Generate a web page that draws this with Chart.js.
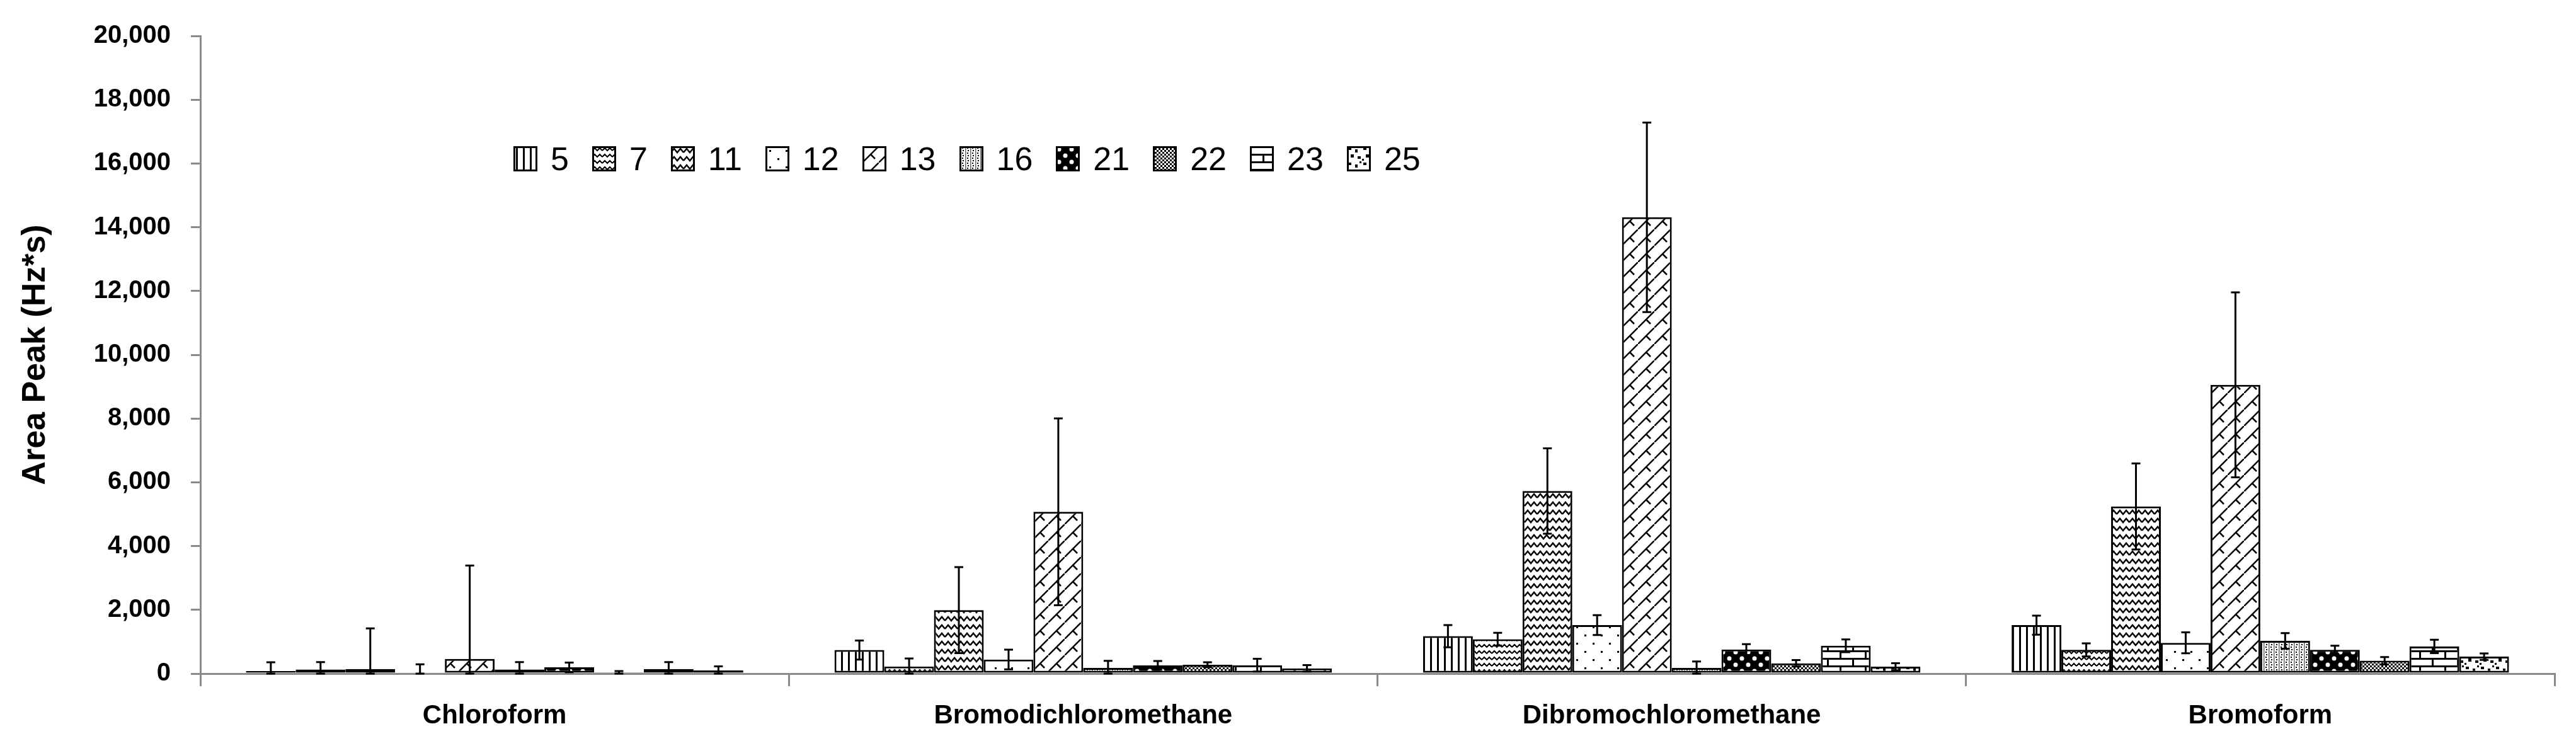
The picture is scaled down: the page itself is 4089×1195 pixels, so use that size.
<!DOCTYPE html>
<html>
<head>
<meta charset="utf-8">
<script src="https://cdn.jsdelivr.net/npm/chart.js@4.4.0/dist/chart.umd.min.js"></script>
<style>
    html, body { margin: 0; padding: 0; background: #fff; overflow: hidden; }
    #wrap { position: relative; width: 4089px; height: 1195px; }
    #legend {
        position: absolute; left: 815px; top: 222px;
        display: flex; align-items: center;
        font-family: 'Liberation Sans', Arial, sans-serif; font-size: 52px; color: #000;
    }
    .item { display: flex; align-items: center; margin-right: 37px; }
    .item canvas { display: block; margin-right: 21px; }
</style>
</head>
<body>
<div id="wrap">
    <canvas id="chart" width="4089" height="1195"></canvas>
    <div id="legend"></div>
</div>
<script>
// Categorias e séries
const categories = ['Chloroform', 'Bromodichloromethane', 'Dibromochloromethane', 'Bromoform'];
const seriesNames = ['5', '7', '11', '12', '13', '16', '21', '22', '23', '25'];

// Médias (Area Peak, Hz*s)
const mean5  = [78, 740, 1174, 1520];
const mean7  = [130, 224, 1078, 745];
const mean11 = [144, 1990, 5725, 5243];
const mean12 = [33, 441, 1521, 965];
const mean13 = [458, 5073, 14311, 9058];
const mean16 = [130, 178, 180, 1026];
const mean21 = [196, 257, 754, 745];
const mean22 = [40, 277, 323, 403];
const mean23 = [144, 263, 874, 851];
const mean25 = [98, 165, 216, 532];

// Desvios (barras de erro)
const err5  = [280, 300, 350, 300];
const err7  = [230, 250, 200, 205];
const err11 = [1275, 1350, 1340, 1350];
const err12 = [260, 310, 310, 330];
const err13 = [2930, 2930, 2970, 2900];
const err16 = [230, 220, 200, 245];
const err21 = [150, 140, 170, 130];
const err22 = [40, 80, 100, 115];
const err23 = [215, 200, 200, 210];
const err25 = [130, 100, 110, 100];

const yTicks = { min: 0, max: 20000, step: 2000 };

const means = [mean5, mean7, mean11, mean12, mean13, mean16, mean21, mean22, mean23, mean25];
const errs  = [err5, err7, err11, err12, err13, err16, err21, err22, err23, err25];

const FONT = "'Liberation Sans', Arial, sans-serif";
const ctx = document.getElementById('chart').getContext('2d');

// Função para criar um padrão de preenchimento
function makePattern(w, h, draw) {
    const c = document.createElement('canvas');
    c.width = w; c.height = h;
    const g = c.getContext('2d');
    g.fillStyle = '#fff';
    g.fillRect(0, 0, w, h);
    g.fillStyle = '#000';
    g.strokeStyle = '#000';
    draw(g, w, h);
    return ctx.createPattern(c, 'repeat');
}

const patterns = [
    // 5 - linhas verticais
    makePattern(11, 11, g => { g.fillRect(4, 0, 3, 11); }),
    // 7 - ondas
    makePattern(16, 10, g => {
        g.lineWidth = 2;
        g.beginPath();
        g.moveTo(0, 7); g.lineTo(4, 3); g.lineTo(8, 7); g.lineTo(12, 3); g.lineTo(16, 7);
        g.stroke();
    }),
    // 11 - zigue-zague
    makePattern(20, 13, g => {
        g.lineWidth = 2.5;
        g.beginPath();
        g.moveTo(0, 10); g.lineTo(5, 4); g.lineTo(10, 10); g.lineTo(15, 4); g.lineTo(20, 10);
        g.stroke();
    }),
    // 12 - pontos esparsos
    makePattern(26, 26, g => {
        g.fillRect(6, 6, 3, 3);
        g.fillRect(19, 19, 3, 3);
    }),
    // 13 - diagonais (telhas)
    makePattern(26, 26, g => {
        g.lineWidth = 2.5;
        g.beginPath();
        g.moveTo(-2, 28); g.lineTo(28, -2);
        g.moveTo(13, 13); g.lineTo(20, 20);
        g.stroke();
    }),
    // 16 - pontilhado vertical claro
    makePattern(8, 8, g => {
        g.fillStyle = '#666';
        g.fillRect(1, 0, 1.5, 8);
        g.fillStyle = '#000';
        g.fillRect(4, 2, 2, 2);
        g.fillRect(5, 6, 2, 2);
    }),
    // 21 - esferas (fundo escuro)
    makePattern(20, 20, g => {
        g.fillRect(0, 0, 20, 20);
        g.fillStyle = '#fff';
        g.beginPath(); g.arc(5, 5, 3.5, 0, Math.PI * 2); g.fill();
        g.beginPath(); g.arc(15, 15, 3.5, 0, Math.PI * 2); g.fill();
    }),
    // 22 - xadrez pequeno
    makePattern(6, 6, g => {
        g.fillRect(0, 0, 3, 3);
        g.fillRect(3, 3, 3, 3);
    }),
    // 23 - tijolos
    makePattern(40, 24, g => {
        g.fillRect(0, 0, 40, 3);
        g.fillRect(0, 12, 40, 3);
        g.fillRect(0, 0, 3, 12);
        g.fillRect(20, 12, 3, 12);
    }),
    // 25 - confete grande
    makePattern(24, 24, g => {
        g.fillRect(2, 2, 5, 4);
        g.fillRect(13, 5, 4, 5);
        g.fillRect(6, 13, 5, 5);
        g.fillRect(17, 16, 5, 4);
        g.fillRect(20, 0, 3, 3);
        g.fillRect(0, 20, 3, 3);
    })
];

// Plugin de barras de erro
const errorBars = {
    id: 'errorBars',
    afterDatasetsDraw(chart) {
        const c = chart.ctx;
        const y = chart.scales.y;
        c.save();
        c.strokeStyle = '#000';
        c.lineWidth = 3;
        chart.data.datasets.forEach((ds, i) => {
            const meta = chart.getDatasetMeta(i);
            meta.data.forEach((bar, j) => {
                const v = ds.data[j];
                const e = ds.errors[j];
                const top = y.getPixelForValue(v + e);
                const bot = y.getPixelForValue(Math.max(0, v - e));
                c.beginPath();
                c.moveTo(bar.x, top); c.lineTo(bar.x, bot);
                c.moveTo(bar.x - 7, top); c.lineTo(bar.x + 7, top);
                c.moveTo(bar.x - 7, bot); c.lineTo(bar.x + 7, bot);
                c.stroke();
            });
        });
        c.restore();
    }
};

const datasets = seriesNames.map((name, i) => ({
    label: name,
    data: means[i],
    errors: errs[i],
    backgroundColor: patterns[i],
    borderColor: '#000',
    borderWidth: 3,
    borderSkipped: false,
    barPercentage: 1.0,
    categoryPercentage: 0.845
}));

const axisGray = '#8a8a8a';

new Chart(ctx, {
    type: 'bar',
    data: { labels: categories, datasets: datasets },
    options: {
        responsive: false,
        devicePixelRatio: 1,
        animation: false,
        layout: { padding: { left: 25, right: 34, top: 57, bottom: 0 } },
        plugins: {
            legend: { display: false },
            tooltip: { enabled: false }
        },
        scales: {
            x: {
                grid: {
                    display: true,
                    drawOnChartArea: false,
                    drawTicks: true,
                    tickLength: 20,
                    color: axisGray,
                    lineWidth: 3,
                    offset: true
                },
                border: { color: axisGray, width: 3 },
                ticks: {
                    color: '#000',
                    font: { family: FONT, size: 42, weight: 'bold' },
                    padding: 22,
                    maxRotation: 0,
                    autoSkip: false
                },
                afterFit: s => { s.height = 126; }
            },
            y: {
                min: yTicks.min,
                max: yTicks.max,
                ticks: {
                    stepSize: yTicks.step,
                    color: '#000',
                    font: { family: FONT, size: 40, weight: 'bold' },
                    padding: 32
                },
                grid: {
                    drawOnChartArea: false,
                    tickLength: 15,
                    color: axisGray,
                    lineWidth: 3
                },
                border: { color: axisGray, width: 3 },
                title: {
                    display: true,
                    text: 'Area Peak (Hz*s)',
                    color: '#000',
                    font: { family: FONT, size: 52, weight: 'bold' },
                    padding: 0
                },
                afterFit: s => { s.width = 293; }
            }
        }
    },
    plugins: [errorBars]
});

// Legenda em HTML com amostras dos padrões
const legend = document.getElementById('legend');
seriesNames.forEach((name, i) => {
    const item = document.createElement('div');
    item.className = 'item';
    const sw = document.createElement('canvas');
    sw.width = 38; sw.height = 40;
    const g = sw.getContext('2d');
    g.fillStyle = patterns[i];
    g.fillRect(0, 0, 38, 40);
    g.strokeStyle = '#000';
    g.lineWidth = 3;
    g.strokeRect(1.5, 1.5, 35, 37);
    const label = document.createElement('span');
    label.textContent = name;
    item.appendChild(sw);
    item.appendChild(label);
    legend.appendChild(item);
});
</script>
</body>
</html>
